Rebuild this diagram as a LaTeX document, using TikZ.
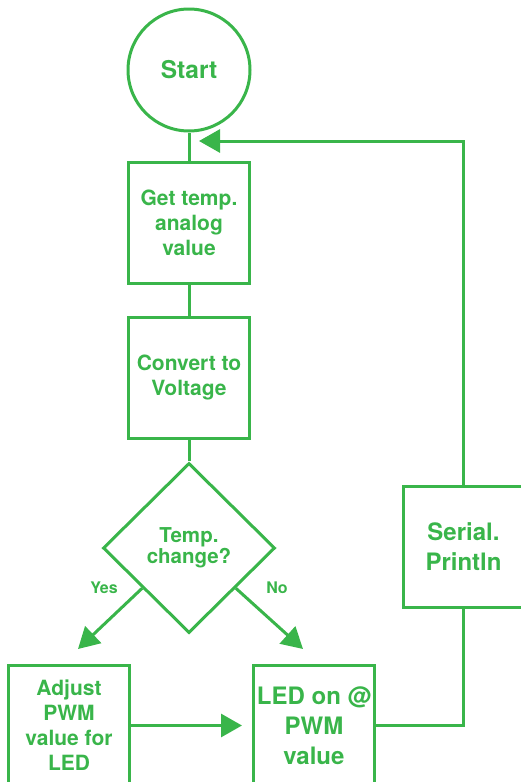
\documentclass[tikz,border=0pt]{standalone}
\usepackage{fontspec}
\setmainfont{TeX Gyre Heros}
\usetikzlibrary{shapes.geometric,arrows.meta,calc}
\definecolor{fg}{RGB}{57,181,74}
\begin{document}
\begin{tikzpicture}[x=1pt,y=-1pt,line width=3pt,color=fg,
  box/.style={draw,rectangle,minimum width=121pt,minimum height=121pt,inner sep=0pt,align=center,
    font=\bfseries\fontsize{21}{25}\selectfont},
  bigbox/.style={box,font=\bfseries\fontsize{24}{30}\selectfont},
  arr/.style={-{Triangle[length=21pt,width=23pt]}},
  lbl/.style={font=\bfseries\fontsize{16}{18}\selectfont}]
\useasboundingbox (0,0) rectangle (521,782);
\node[draw,circle,minimum size=122pt,inner sep=0pt,font=\bfseries\fontsize{24.5}{30}\selectfont] (start) at (189,70) {Start};
\node[box] (get) at (189,222.5) {Get temp.\\analog\\value};
\node[box] (conv) at (189,377.5) {Convert to\\Voltage};
\node[draw,diamond,minimum width=172pt,minimum height=170pt,inner sep=0pt,align=center,
  font=\bfseries\fontsize{20.5}{21}\selectfont] (dec) at (189,548) {Temp.\\change?};
\node[box] (adj) at (69,725.5) {Adjust\\PWM\\value for\\LED};
\node[bigbox] (led) at (314,725.5) {LED on @\\PWM\\value};
\node[bigbox] (ser) at (463.5,546.5) {Serial.\\Println};
\coordinate (fb) at (199,141);
\coordinate (ystart) at ($(dec.west)!0.465!(dec.south)$);
\coordinate (nstart) at ($(dec.east)!0.465!(dec.south)$);
\coordinate (yend) at (78,649);
\coordinate (nend) at (303,649);
\draw (start) -- (get);
\draw (get) -- (conv);
\draw (conv) -- (dec);
\draw[arr] (ystart) -- (yend);
\draw[arr] (nstart) -- (nend);
\draw[arr,shorten >=10pt] (adj) -- (led);
\draw (led.east) -| (ser.south);
\draw[arr] (ser.north) |- (fb);
\node[lbl] (yes) at (104,588) {Yes};
\node[lbl] (no) at (277,588) {No};
\end{tikzpicture}
\end{document}
